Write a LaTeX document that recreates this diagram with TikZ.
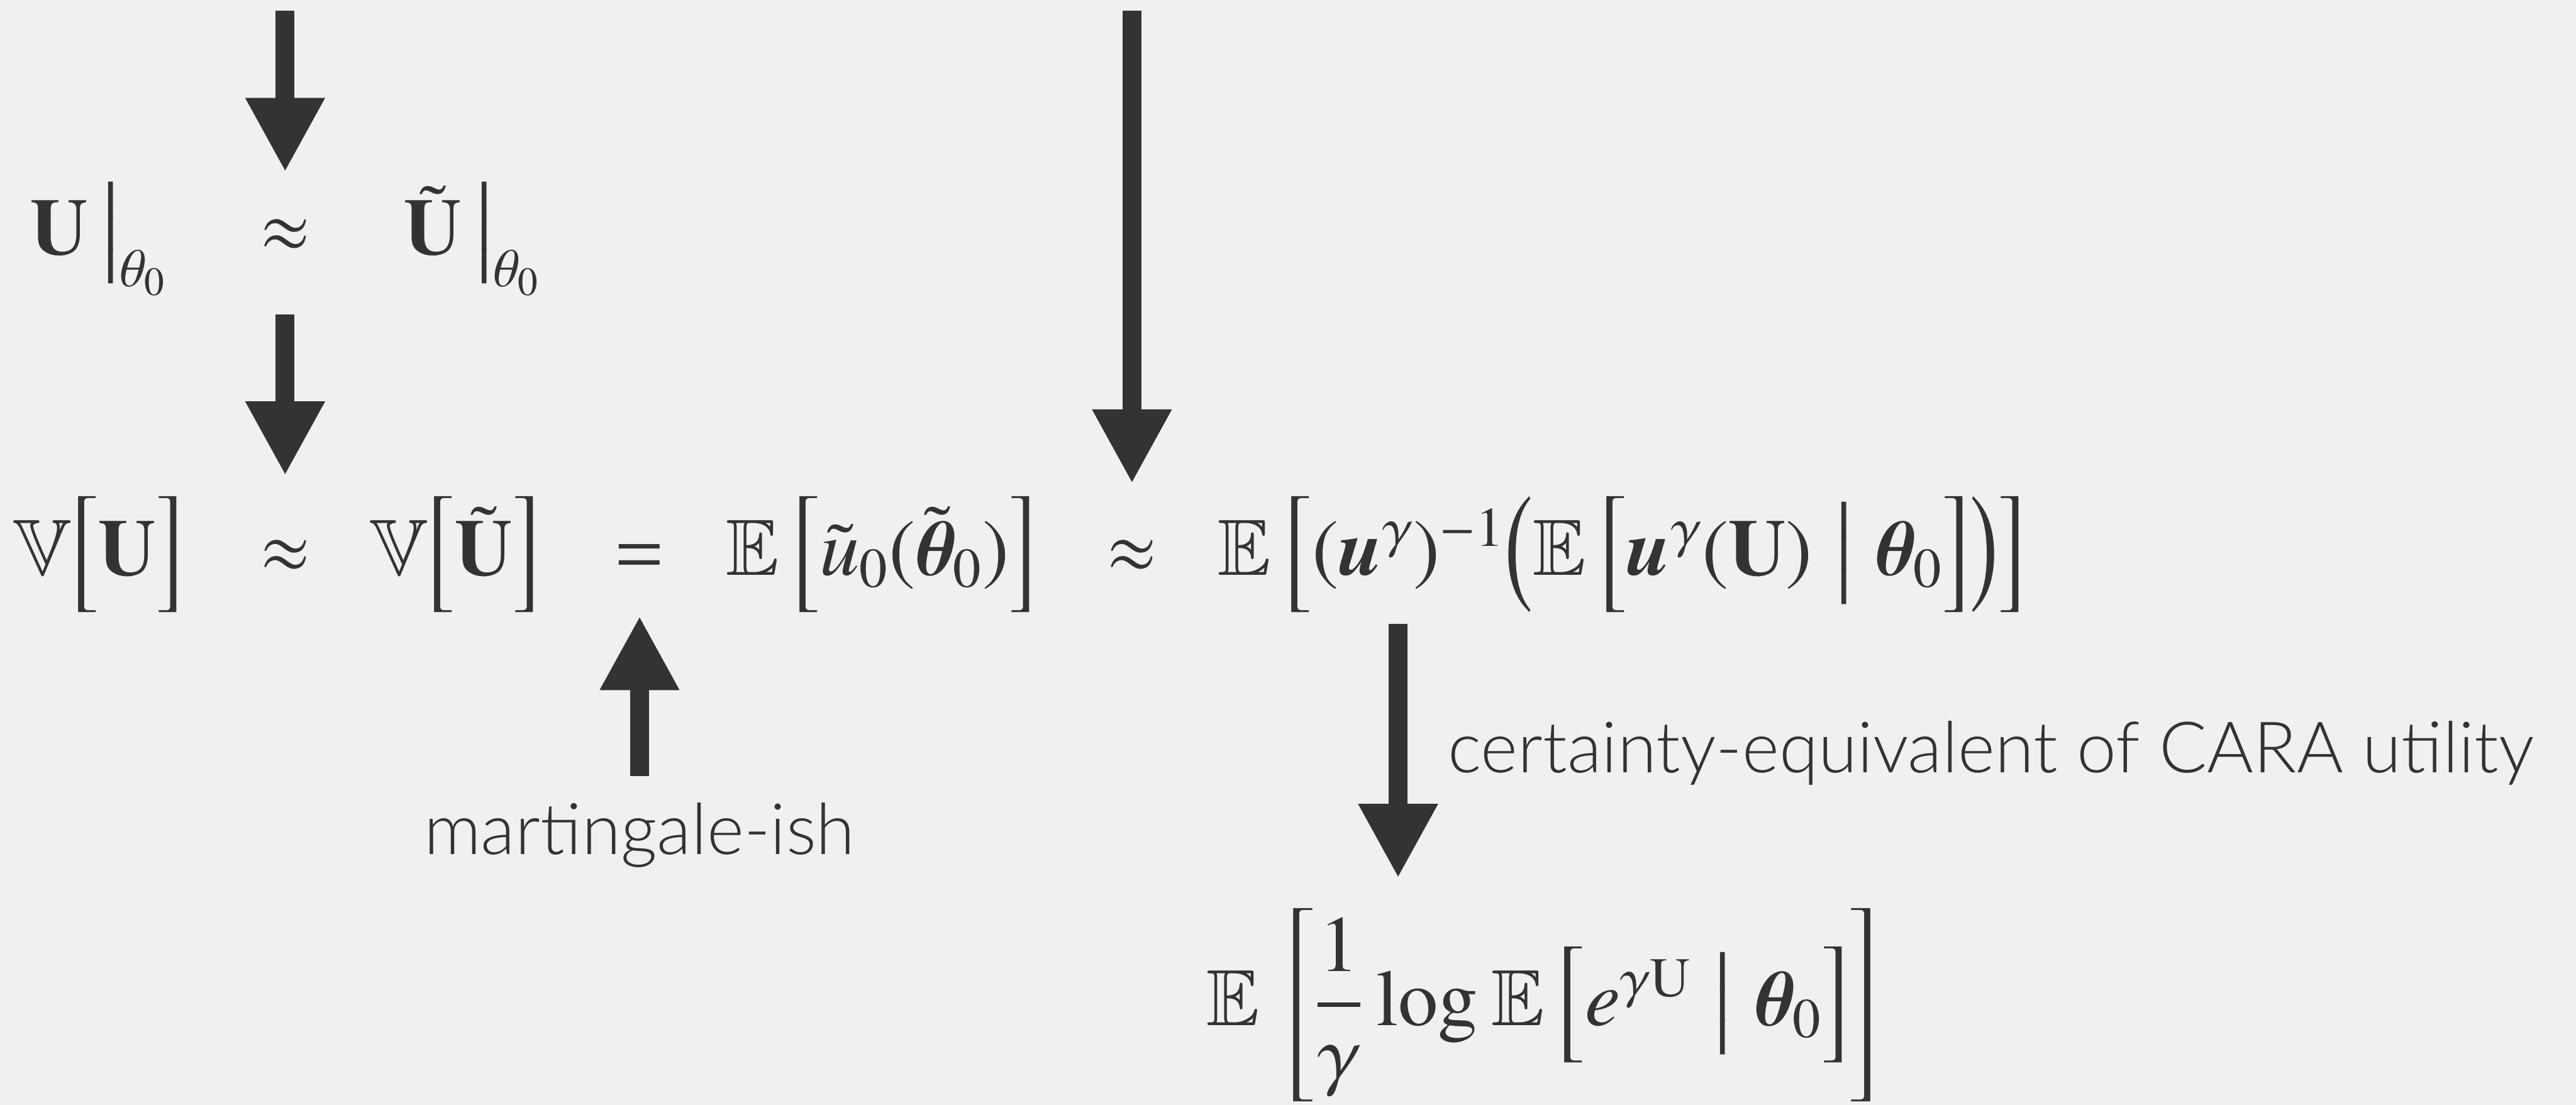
\documentclass[tikz,border=0pt]{standalone}
\usepackage{amsmath}
\usepackage[no-math]{fontspec}
\IfFileExists{txfonts.sty}{\usepackage{txfonts}}{\usepackage{mathptmx}\usepackage{amssymb}}
\usepackage{bm}
\DeclareSymbolFont{bbsym}{U}{msb}{m}{n}
\DeclareSymbolFontAlphabet{\mathbb}{bbsym}
\newfontfamily\labelfont{Lato Light}
\usetikzlibrary{arrows.meta}
\definecolor{ink}{RGB}{51,51,51}
\definecolor{paper}{RGB}{240,240,240}

\begin{document}
\begin{tikzpicture}[
  every node/.style={text=ink, inner sep=0pt},
  formula/.style={font=\fontsize{37}{44}\selectfont, anchor=base,
    text height=0pt, text depth=0pt},
  note/.style={font=\labelfont\fontsize{32.9}{39}\selectfont, anchor=base,
    text height=0pt, text depth=0pt},
  arr/.style={draw=ink, line width=3.1mm,
    -{Triangle[length=12.1mm, width=12.1mm]}},
]
\fill[paper] (0,0) rectangle (42.01,-18.02);
\useasboundingbox (0,0) rectangle (42.01,-18.02);

\node[formula] at ( 1.61, -4.15) (U0)    {$\mathbf{U}\,\big|_{\theta_0}$};
\node[formula] at ( 4.65, -4.15) (apx1)  {$\approx$};
\node[formula] at ( 7.70, -4.15) (Ut0)   {$\tilde{\mathbf{U}}\,\big|_{\theta_0}$};

\node[formula] at ( 1.61, -9.38) (VU)    {$\mathbb{V}\Big[\mathbf{U}\Big]$};
\node[formula] at ( 4.65, -9.38) (apx2)  {$\approx$};
\node[formula] at ( 7.42, -9.38) (VUt)   {$\mathbb{V}\Big[\tilde{\mathbf{U}}\Big]$};
\node[formula] at (10.43, -9.38) (eq)    {$=$};
\node[formula] at (14.37, -9.38) (Eu)    {$\mathbb{E}\,\Big[\tilde{u}_0(\tilde{\bm{\theta}}_0)\Big]$};
\node[formula] at (18.46, -9.38) (apx3)  {$\approx$};
\node[formula] at (26.45, -9.38) (Ece)   {$\mathbb{E}\,\Big[(\bm{u}^{\gamma})^{-1}\Big(\mathbb{E}\,\Big[\bm{u}^{\gamma}(\mathbf{U})\;\big|\;\bm{\theta}_0\Big]\Big)\Big]$};

\node[formula] at (25.15,-16.72) (Eexp)  {$\mathbb{E}\,\left[\dfrac{1}{\gamma}\log\mathbb{E}\,\Big[e^{\gamma\mathrm{U}}\;\big|\;\bm{\theta}_0\Big]\right]$};

\node[note] at (10.43,-13.93) (mart) {martingale-ish};
\node[note, anchor=base west] at (23.61,-12.60) (cara) {certainty-equivalent of CARA utility};

\coordinate (topA)  at ( 4.65, -0.17);
\coordinate (topB)  at (18.46, -0.17);
\coordinate (ceTop) at (22.80, -9.38);

\draw[arr, shorten >=13.2mm] (topA) -- (apx1);
\draw[arr, shorten <=9.5mm, shorten >=16mm] (apx1) -- (apx2);
\draw[arr, shorten >=14.7mm] (topB) -- (apx3);
\draw[arr, shorten <=12.5mm, shorten >=6.4mm] (mart) -- (eq);
\draw[arr, shorten <=7.9mm, shorten >=24mm] (ceTop) -- (ceTop |- Eexp);
\end{tikzpicture}
\end{document}
